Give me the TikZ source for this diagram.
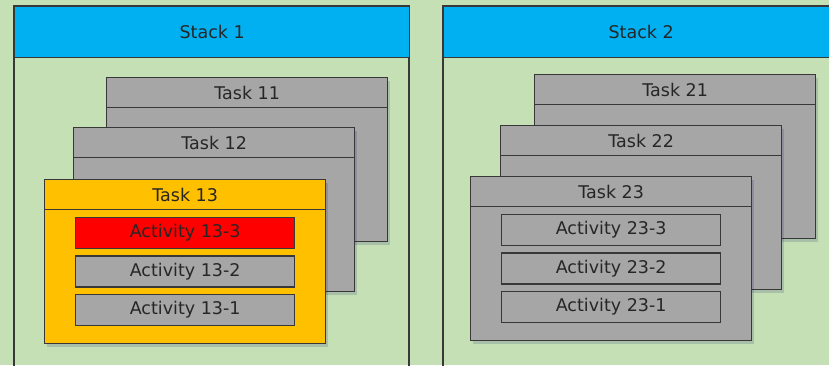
\documentclass[tikz,border=0pt]{standalone}
\usepackage{fontspec}
\setmainfont{DejaVu Sans}
\usetikzlibrary{positioning,shadows}
\definecolor{bggreen}{HTML}{C5E0B4}
\definecolor{stackblue}{HTML}{00B0F0}
\definecolor{taskgray}{HTML}{A6A6A6}
\definecolor{taskorange}{HTML}{FFC000}
\definecolor{actred}{HTML}{FF0000}
\definecolor{edgegray}{HTML}{383838}

\tikzset{
  box/.style={draw=edgegray, line width=1.3pt, inner sep=0pt, anchor=north west,
    text=black!85, font=\fontsize{17.5}{20}\selectfont},
  stackhead/.style={box, fill=stackblue, minimum width=395pt, minimum height=51pt},
  taskbody/.style={box, fill=taskgray, minimum width=281pt, minimum height=164pt,
    drop shadow={fill=blue!40!black, opacity=0.14, shadow xshift=2pt, shadow yshift=-3pt}},
  taskhead/.style={box, fill=taskgray, minimum width=281pt, minimum height=30pt},
  activity/.style={box, fill=taskgray, minimum width=219pt, minimum height=31pt},
}

\begin{document}
\begin{tikzpicture}[x=1pt, y=-1pt]
\useasboundingbox (0,0) rectangle (829,365);
\clip (0,0) rectangle (829,365);
\fill[bggreen] (0,0) rectangle (829,365);
%
% stack 1
\draw[edgegray, line width=1.3pt] (14,6) rectangle (409,380);
\node[stackhead] (stack1) at (14,6) {Stack 1};
%
\node[taskbody] (task11) at (106,77) {};
\node[taskhead] (head11) at (106,77) {Task 11};
\node[taskbody] (task12) at (73,127) {};
\node[taskhead] (head12) at (73,127) {Task 12};
\node[taskbody, fill=taskorange] (task13) at (44,179) {};
\node[taskhead, fill=taskorange] (head13) at (44,179) {Task 13};
%
\node[activity, fill=actred] (act133) at (75,217) {Activity 13-3};
\node[activity, below=6pt of act133] (act132) {Activity 13-2};
\node[activity, below=6pt of act132] (act131) {Activity 13-1};
%
% stack 2
\draw[edgegray, line width=1.3pt] (443,6) rectangle (850,380);
\node[stackhead] (stack2) at (443,6) {Stack 2};
%
\node[taskbody] (task21) at (534,74) {};
\node[taskhead] (head21) at (534,74) {Task 21};
\node[taskbody] (task22) at (500,125) {};
\node[taskhead] (head22) at (500,125) {Task 22};
\node[taskbody] (task23) at (470,176) {};
\node[taskhead] (head23) at (470,176) {Task 23};
%
\node[activity] (act233) at (501,214) {Activity 23-3};
\node[activity, below=6pt of act233] (act232) {Activity 23-2};
\node[activity, below=6pt of act232] (act231) {Activity 23-1};
\end{tikzpicture}
\end{document}
